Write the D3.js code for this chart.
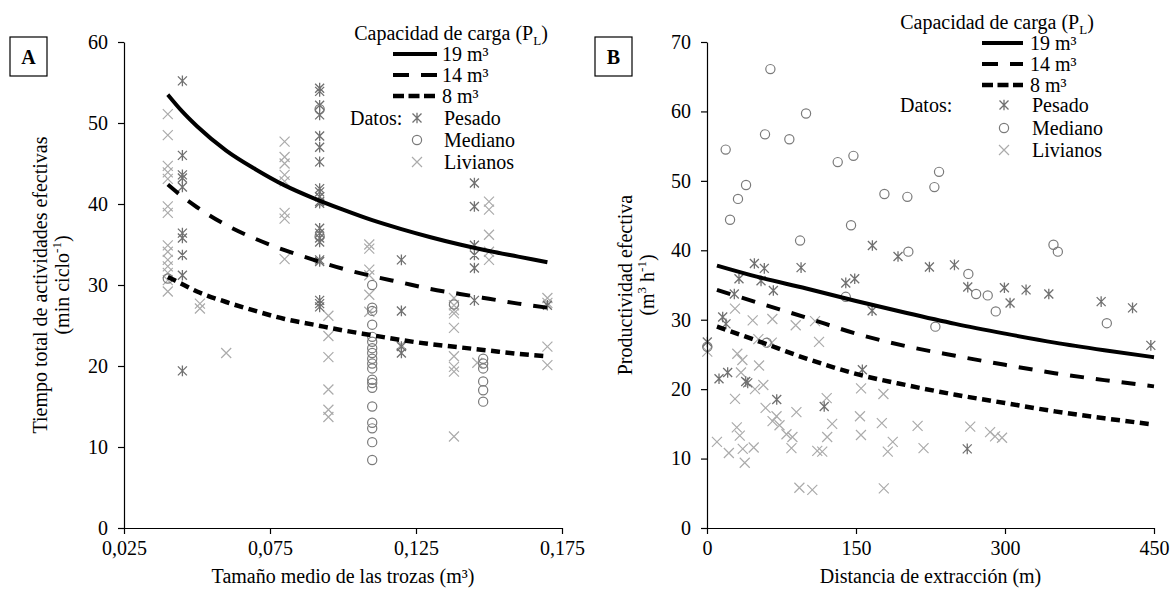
<!DOCTYPE html>
<html><head><meta charset="utf-8">
<script src="https://cdn.jsdelivr.net/npm/d3@7"></script>
<style>
html,body{margin:0;padding:0;background:#fff;}
svg text{font-family:"Liberation Serif","Times New Roman",serif;fill:#000;}
</style></head><body>
<svg id="chart" width="1174" height="592"></svg>
<script>
// ---------- Panel A: tiempo total vs tamaño medio de las trozas ----------
const sizeGrid = [0.040,0.045,0.050,0.060,0.070,0.080,0.090,0.100,0.110,0.120,0.130,0.140,0.150,0.160,0.170];
const tiempo19 = [53.5,51.4,49.6,46.6,44.3,42.3,40.7,39.3,38.0,36.9,35.9,35.0,34.2,33.5,32.8];
const tiempo14 = [42.4,40.9,39.6,37.4,35.7,34.3,33.1,32.0,31.1,30.3,29.5,28.9,28.3,27.7,27.2];
const tiempo8  = [31.0,30.1,29.2,27.9,26.8,25.8,25.1,24.4,23.8,23.2,22.7,22.3,21.9,21.5,21.2];

const pesadoA = [
  [0.045,55.2],[0.045,46.0],[0.045,43.6],[0.045,43.2],[0.045,42.1],[0.045,36.4],[0.045,35.8],[0.045,33.7],[0.045,31.2],[0.045,19.4],
  [0.092,54.3],[0.092,53.9],[0.092,52.2],[0.092,51.0],[0.092,48.4],[0.092,47.0],[0.092,45.2],[0.092,41.9],[0.092,41.5],[0.092,40.9],
  [0.092,40.3],[0.092,40.1],[0.092,37.0],[0.092,36.4],[0.092,35.8],[0.092,35.3],[0.092,33.1],[0.092,32.9],[0.092,28.1],[0.092,27.7],[0.092,27.3],
  [0.120,33.1],[0.120,26.8],[0.120,22.4],[0.120,21.6],
  [0.145,42.6],[0.145,39.7],[0.145,34.9],[0.145,33.7],[0.145,32.1],[0.145,28.1],
  [0.170,27.5]
];
const medianoA = [
  [0.040,30.8],[0.092,51.7],[0.092,36.0],
  [0.110,30.0],[0.110,27.2],[0.110,26.8],[0.110,25.1],[0.110,23.6],[0.110,23.0],[0.110,22.2],[0.110,21.6],[0.110,20.9],[0.110,20.3],
  [0.110,19.7],[0.110,18.3],[0.110,17.9],[0.110,17.3],[0.110,15.0],[0.110,13.0],[0.110,12.3],[0.110,10.6],[0.110,8.4],
  [0.138,27.6],
  [0.148,20.9],[0.148,20.3],[0.148,19.7],[0.148,18.1],[0.148,17.0],[0.148,15.6]
];
const livianosA = [
  [0.040,51.1],[0.040,48.5],[0.040,44.7],[0.040,43.9],[0.040,43.1],[0.040,39.7],[0.040,38.9],[0.040,34.9],[0.040,34.1],[0.040,33.1],
  [0.040,32.3],[0.040,31.5],[0.040,30.6],[0.040,29.2],
  [0.051,27.7],[0.051,27.1],[0.060,21.6],
  [0.080,47.7],[0.080,45.8],[0.080,45.0],[0.080,43.6],[0.080,42.8],[0.080,38.9],[0.080,38.2],[0.080,33.2],
  [0.095,26.2],[0.095,23.7],[0.095,21.1],[0.095,17.1],[0.095,14.6],[0.095,13.7],
  [0.109,35.0],[0.109,34.5],[0.109,31.9],[0.109,31.2],[0.109,28.8],[0.109,26.7],
  [0.120,22.6],
  [0.138,28.4],[0.138,27.5],[0.138,26.9],[0.138,26.5],[0.138,24.7],[0.138,21.2],[0.138,19.9],[0.138,19.3],[0.138,11.3],
  [0.146,20.4],
  [0.150,40.3],[0.150,39.3],[0.150,36.2],[0.150,34.1],[0.150,33.1],
  [0.170,28.4],[0.170,27.8],[0.170,22.4],[0.170,20.1]
];
const ticksA_x = [0.025,0.075,0.125,0.175];
const ticksA_y = [0,10,20,30,40,50,60];

// ---------- Panel B: productividad efectiva vs distancia de extracción ----------
const distGrid = [10,50,100,150,200,250,300,350,400,450];
const prod19 = [37.8,36.2,34.5,32.7,31.0,29.4,28.0,26.7,25.6,24.6];
const prod14 = [34.3,32.5,30.3,28.0,26.2,24.8,23.5,22.3,21.3,20.4];
const prod8  = [29.0,27.0,24.4,22.2,20.6,19.2,18.0,16.8,15.8,14.9];

const pesadoB = [
  [166.5,40.7],[47.7,38.1],[57.7,37.4],[94.7,37.5],[192.3,39.1],[223.9,37.6],[32.2,35.9],[54.4,35.6],[139.7,35.3],[148.7,35.9],
  [66.8,34.2],[27.5,33.7],[166.2,31.3],[15.8,30.4],[19.1,29.4],[0.3,26.8],[156.4,22.8],[12.1,21.5],[20.8,22.4],[39,21.1],[41,20.9],
  [70.2,18.5],[249.1,37.9],[262.5,34.7],[299.4,34.6],[305.1,32.4],[321.2,34.3],[344.1,33.7],[396.8,32.6],[428.4,31.7],[446.8,26.3],
  [118,17.5],[262,11.4]
];
const medianoB = [
  [63.8,66.1],[99.7,59.7],[58.4,56.7],[82.9,56.0],[18.8,54.5],[131.6,52.7],[147.4,53.6],[39.3,49.4],[31.2,47.4],[233.6,51.3],
  [178.6,48.1],[201.7,47.7],[228.9,49.1],[23.2,44.4],[145.0,43.6],[93.7,41.4],[202.7,39.8],[139.7,33.3],[229.9,29.0],[60.1,26.7],
  [0.3,26.1],[348.8,40.8],[353.2,39.8],[263.1,36.6],[270.9,33.7],[282.6,33.5],[290.7,31.2],[402.5,29.5]
];
const livianosB = [
  [28.2,31.6],[46,29.9],[65.8,30.1],[89.3,29.2],[108.8,29.8],[112.8,26.8],[51.7,27.2],[65.2,26.7],[0.3,25.4],[30.5,25.1],
  [35.6,24.2],[34.2,22.4],[52.4,23.4],[48.3,20.0],[56.7,20.6],[155.1,20.1],[177.6,19.3],[28.2,18.6],[120.5,18.7],
  [10,12.4],[22,10.8],[30,14.5],[33,13.3],[36,11.4],[38,9.4],[47,11.6],[59,17.3],[66,15.4],[70,16.1],[73,14.8],[80,13.5],
  [90,16.7],[86,13.1],[85,11.5],[93,5.8],[106,5.5],[111,11.1],[116,11.0],[121,13.1],[126,15.0],[154,16.1],[155,13.4],
  [176,15.1],[178,5.7],[182,11.0],[187,12.4],[212,14.7],[218,11.5],[265,14.6],[285,13.8],[290,13.2],[297,13.0]
];
const ticksB_x = [0,150,300,450];
const ticksB_y = [0,10,20,30,40,50,60,70];

const capacityLabels = ["19 m³","14 m³","8 m³"];
const dataLabels = ["Pesado","Mediano","Livianos"];

// ---------- drawing ----------
const svg = d3.select("#chart");
const FONT = 20;
const dashes = [null, "14,12", "9,5.5"];
const markerColor = {Pesado:"#707070", Mediano:"#7a7a7a", Livianos:"#ababab"};

function marker(g, type, cx, cy) {
  if (type === "Mediano") {
    g.append("circle").attr("cx", cx).attr("cy", cy).attr("r", 4.6)
      .attr("fill", "none").attr("stroke", markerColor.Mediano).attr("stroke-width", 1.2);
  } else if (type === "Livianos") {
    const s = 5;
    g.append("path").attr("d", `M${cx-s},${cy-s}L${cx+s},${cy+s}M${cx-s},${cy+s}L${cx+s},${cy-s}`)
      .attr("stroke", markerColor.Livianos).attr("stroke-width", 1.2).attr("fill", "none");
  } else {
    const s = 4.5;
    g.append("path").attr("d", `M${cx-s},${cy-s}L${cx+s},${cy+s}M${cx-s},${cy+s}L${cx+s},${cy-s}M${cx},${cy-s-0.8}L${cx},${cy+s+0.8}`)
      .attr("stroke", markerColor.Pesado).attr("stroke-width", 1.3).attr("fill", "none");
  }
}

function drawPanel(o) {
  const x = d3.scaleLinear().domain(o.xDomain).range(o.xRange);
  const y = d3.scaleLinear().domain(o.yDomain).range([528, 42]);
  const g = svg.append("g");

  // scatter: livianos, mediano, pesado
  const pts = g.append("g");
  o.livianos.forEach(d => marker(pts, "Livianos", x(d[0]), y(d[1])));
  o.mediano.forEach(d => marker(pts, "Mediano", x(d[0]), y(d[1])));
  o.pesado.forEach(d => marker(pts, "Pesado", x(d[0]), y(d[1])));

  // fitted curves per capacidad de carga
  o.curves.forEach((vals, i) => {
    const line = d3.line().x((d, j) => x(o.grid[j])).y(d => y(d)).curve(d3.curveMonotoneX);
    g.append("path").attr("d", line(vals)).attr("fill", "none").attr("stroke", "#000")
      .attr("stroke-width", i === 2 ? 4.5 : 4).attr("stroke-dasharray", dashes[i]);
  });

  // axes
  const xa = g.append("g").attr("transform", `translate(0,${y(0)})`)
    .call(d3.axisBottom(x).tickValues(o.xTicks).tickSize(6).tickSizeOuter(0).tickPadding(7).tickFormat(o.xFormat));
  const ya = g.append("g").attr("transform", `translate(${o.xRange[0]},0)`)
    .call(d3.axisLeft(y).tickValues(o.yTicks).tickSize(6).tickSizeOuter(0).tickPadding(10));
  [xa, ya].forEach(a => {
    a.attr("font-family", null).attr("font-size", null);
    a.selectAll("path,line").attr("stroke", "#000").attr("stroke-width", 1.2);
    a.selectAll("text").attr("font-size", FONT).attr("fill", "#000");
  });

  // axis titles
  g.append("text").attr("x", (o.xRange[0] + o.xRange[1]) / 2).attr("y", 583)
    .attr("text-anchor", "middle").attr("font-size", FONT).text(o.xTitle);
  o.yTitle(g);

  // panel letter
  g.append("rect").attr("x", o.box[0]).attr("y", o.box[1]).attr("width", 37).attr("height", 39)
    .attr("fill", "none").attr("stroke", "#000").attr("stroke-width", 1.2);
  g.append("text").attr("x", o.box[0] + 18.5).attr("y", o.box[1] + 27).attr("text-anchor", "middle")
    .attr("font-size", FONT).attr("font-weight", "bold").text(o.letter);

  // legend
  const L = o.legend;
  const lg = g.append("g");
  const t = lg.append("text").attr("x", L.titleX).attr("y", L.titleY).attr("text-anchor", "middle").attr("font-size", FONT);
  t.append("tspan").text("Capacidad de carga (P");
  t.append("tspan").attr("font-size", 13).attr("dy", 5).text("L");
  t.append("tspan").attr("dy", -5).text(")");
  capacityLabels.forEach((lab, i) => {
    const yy = L.rows[i];
    lg.append("line").attr("x1", L.lineX[0]).attr("x2", L.lineX[1]).attr("y1", yy).attr("y2", yy)
      .attr("stroke", "#000").attr("stroke-width", i === 2 ? 4.5 : 4).attr("stroke-dasharray", i === 0 ? null : (i === 1 ? "16,12" : "11,4.5"));
    lg.append("text").attr("x", L.lineTextX).attr("y", yy + 7).attr("font-size", FONT).text(lab);
  });
  lg.append("text").attr("x", L.datosX).attr("y", L.rows[3] + 7).attr("font-size", FONT).text("Datos:");
  dataLabels.forEach((lab, i) => {
    const yy = L.rows[3 + i];
    marker(lg, lab, L.markX, yy);
    lg.append("text").attr("x", L.dataTextX).attr("y", yy + 7).attr("font-size", FONT).text(lab);
  });
}

const commaFmt = d => d3.format(".3f")(d).replace(".", ",");

drawPanel({
  xDomain: [0.025, 0.175], xRange: [124, 562], yDomain: [0, 60],
  xTicks: ticksA_x, yTicks: ticksA_y, xFormat: commaFmt,
  grid: sizeGrid, curves: [tiempo19, tiempo14, tiempo8],
  pesado: pesadoA, mediano: medianoA, livianos: livianosA,
  xTitle: "Tamaño medio de las trozas (m³)",
  yTitle: g => {
    g.append("text").attr("transform", "translate(47,285) rotate(-90)").attr("text-anchor", "middle")
      .attr("font-size", FONT).text("Tiempo total de actividades efectivas");
    const t = g.append("text").attr("transform", "translate(69,285) rotate(-90)").attr("text-anchor", "middle").attr("font-size", FONT);
    t.append("tspan").text("(min ciclo");
    t.append("tspan").attr("font-size", 13).attr("dy", -8).text("-1");
    t.append("tspan").attr("dy", 8).text(")");
  },
  box: [10, 37], letter: "A",
  legend: { titleX: 451, titleY: 40, rows: [54, 75, 96, 118, 140, 162], lineX: [393, 437], lineTextX: 442,
            datosX: 350, markX: 417, dataTextX: 444 }
});

drawPanel({
  xDomain: [0, 450], xRange: [707, 1154], yDomain: [0, 70],
  xTicks: ticksB_x, yTicks: ticksB_y, xFormat: d3.format("d"),
  grid: distGrid, curves: [prod19, prod14, prod8],
  pesado: pesadoB, mediano: medianoB, livianos: livianosB,
  xTitle: "Distancia de extracción (m)",
  yTitle: g => {
    g.append("text").attr("transform", "translate(632,285) rotate(-90)").attr("text-anchor", "middle")
      .attr("font-size", FONT).text("Productividad efectiva");
    const t = g.append("text").attr("transform", "translate(654,285) rotate(-90)").attr("text-anchor", "middle").attr("font-size", FONT);
    t.append("tspan").text("(m");
    t.append("tspan").attr("font-size", 13).attr("dy", -8).text("3");
    t.append("tspan").attr("dy", 8).text(" h");
    t.append("tspan").attr("font-size", 13).attr("dy", -8).text("-1");
    t.append("tspan").attr("dy", 8).text(")");
  },
  box: [595, 37], letter: "B",
  legend: { titleX: 997, titleY: 29, rows: [43, 64, 85, 105, 128, 150], lineX: [982, 1023], lineTextX: 1030,
            datosX: 900, markX: 1004, dataTextX: 1032 }
});
</script>
</body></html>
